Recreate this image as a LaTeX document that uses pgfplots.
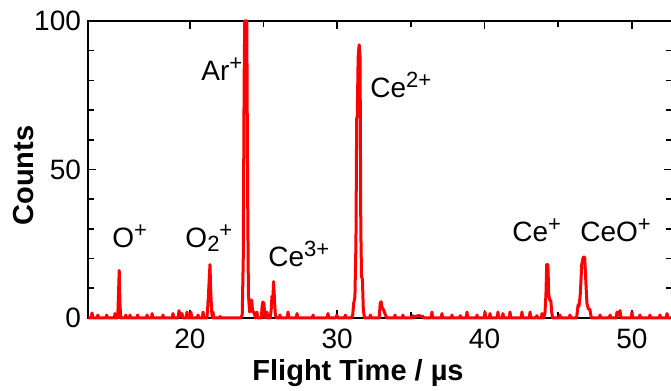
\documentclass[border=0pt]{standalone}
\usepackage{fontspec}
\setmainfont{Liberation Sans}
\usepackage{pgfplots}
\usepackage{pgfplotstable}
\pgfplotsset{compat=1.18}
\newcommand\sups[1]{\raisebox{5pt}{\fontsize{11}{13}\selectfont #1}}
\newcommand\subs[1]{\raisebox{-2pt}{\fontsize{11}{13}\selectfont #1}}
\pgfplotstableread{
x y
13.1 0
13.3 0
13.35 1.7
13.42 0
13.7 0
13.75 1
13.8 0
14.3 0
14.35 1
14.4 0
14.88 0
14.91 1.5
14.96 0
15.1 0
15.15 8
15.2 16
15.25 5
15.3 0
15.6 0
15.65 1
15.7 0
15.88 0
15.93 1
15.98 0
16.4 0
16.45 1
16.5 0
17.05 0
17.09 1
17.14 0
17.4 0
17.43 1.5
17.48 0
18.12 0
18.17 1
18.22 0
18.8 0
18.85 1.5
18.9 0
19.2 0
19.26 2.5
19.32 0.5
19.46 1.5
19.52 0
19.75 0
19.8 2
19.85 0
20.03 0
20.07 2
20.12 0
20.5 0
20.55 1
20.6 0
20.85 0
20.89 2
20.94 0
21.15 0
21.2 3
21.25 7
21.3 12
21.36 18
21.42 8
21.48 2
21.52 0
21.57 2
21.62 0
22.0 0
22.05 0.5
22.1 0
23.45 0
23.55 1
23.62 20
23.68 80
23.72 100
23.86 100
23.92 40
23.97 8
24.05 2
24.1 6
24.2 6
24.25 2
24.35 2
24.45 0
24.55 2
24.6 0
24.85 0
24.9 4
24.95 5.4
25.02 5
25.08 1
25.15 0
25.23 2
25.28 0
25.45 0
25.52 3
25.57 7.3
25.62 5
25.68 12.3
25.74 6
25.8 1
25.87 0
26.06 0
26.11 1
26.16 0
26.6 0
26.66 2
26.71 0
27.22 0
27.27 1.5
27.32 0
28.3 0
28.36 1
28.41 0
29.3 0
29.37 1.5
29.42 0
29.9 0
29.98 1
30.03 0
30.5 0
30.55 1
30.6 0
30.95 0
31.05 1
31.12 5
31.2 7
31.27 25
31.32 67
31.36 68
31.42 88
31.49 92
31.55 88
31.6 30
31.65 14
31.71 13
31.77 3
31.85 0
32.2 0
32.25 1
32.3 0
32.85 0
32.92 5
32.98 5.5
33.05 3.5
33.12 3
33.2 2
33.28 1
33.35 0
33.88 0
33.92 1
33.97 0
34.42 0
34.46 1
34.51 0
35.1 0
35.14 0.8
35.2 0.3
35.5 0.8
35.82 0.5
35.87 0
36.38 0
36.43 2
36.48 0
37.06 0
37.11 1.5
37.16 0
37.74 0
37.79 1
37.84 0
38.3 0
38.35 0.8
38.4 0
38.76 0
38.81 2
38.86 0
39.44 0
39.49 1
39.54 0
39.98 0
40.03 2
40.08 0
40.32 0
40.37 1.5
40.42 0
40.86 0
40.91 2
40.96 0
41.2 0
41.25 1.5
41.3 0
41.68 0
41.73 2
41.78 0
42.49 0
42.54 2
42.59 0
43.04 0
43.09 2
43.14 0
43.5 0
43.55 0.8
43.6 0
43.85 0
43.9 1.5
43.95 0
44.0 0
44.1 1.5
44.17 8
44.22 18
44.3 18
44.36 8
44.42 6
44.5 6
44.56 2
44.62 0
45.07 0
45.12 1
45.17 0
45.75 0
45.8 1
45.85 0
46.25 0
46.35 4.4
46.42 4
46.5 8
46.6 18
46.7 20.5
46.8 20.5
46.88 12
46.95 5
47.05 3
47.15 3
47.25 0
47.79 0
47.84 1
47.89 0
48.47 0
48.52 1
48.57 0
48.94 0
48.99 2
49.1 1
49.2 2.5
49.25 0
49.96 0
50.01 2
50.06 0
50.5 0
50.55 1
50.6 0
51.18 0
51.23 1
51.28 0
51.86 0
51.91 1
51.96 0
52.34 0
52.39 1.5
52.44 0
52.7 0
52.76 0
}\spectrum
\begin{document}
\begin{tikzpicture}
\begin{axis}[
  scale only axis, width=292.25pt, height=148.5pt,
  xmin=13.08, xmax=52.76, ymin=0, ymax=100,
  xtick={20,30,40,50}, ytick={0,50,100},
  minor x tick num=1, minor y tick num=4,
  tick align=inside, major tick length=4pt, minor tick length=3pt,
  axis line style={line width=1pt},
  every tick/.style={black, line width=0.8pt},
  tick label style={font=\fontsize{14}{16}\selectfont},
  xticklabel style={yshift=-2pt},
  /pgf/number format/assume math mode=true,
  xlabel={Flight Time / µs}, ylabel={Counts},
  xlabel style={at={(axis description cs:0.462,0)}, anchor=center, yshift=-27.5pt, font=\fontsize{14.5}{17}\selectfont\bfseries},
  ylabel style={at={(axis description cs:-0.111,0.48)}, anchor=center, font=\fontsize{14.5}{17}\selectfont\bfseries},
  clip=false,
]
\addplot[red, line width=1.5pt, line join=round] table[x=x,y=y] {\spectrum};
\begin{scope}[every node/.style={anchor=base west, font=\fontsize{14}{16}\selectfont, inner sep=0pt}]
\node at (axis cs:14.71,23.6) {O\sups{+}};
\node at (axis cs:19.67,23.6) {O\subs{2}\sups{+}};
\node at (axis cs:20.75,80.1) {Ar\sups{+}};
\node at (axis cs:25.30,17.5) {Ce\sups{3+}};
\node at (axis cs:32.22,74.1) {Ce\sups{2+}};
\node at (axis cs:41.86,25.6) {Ce\sups{+}};
\node at (axis cs:46.48,25.6) {CeO\sups{+}};
\end{scope}
\end{axis}
\pgfresetboundingbox
\useasboundingbox ([xshift=-44pt,yshift=-36.5pt]current axis.south west) rectangle ([xshift=291.5pt,yshift=159pt]current axis.south west);
\end{tikzpicture}
\end{document}
